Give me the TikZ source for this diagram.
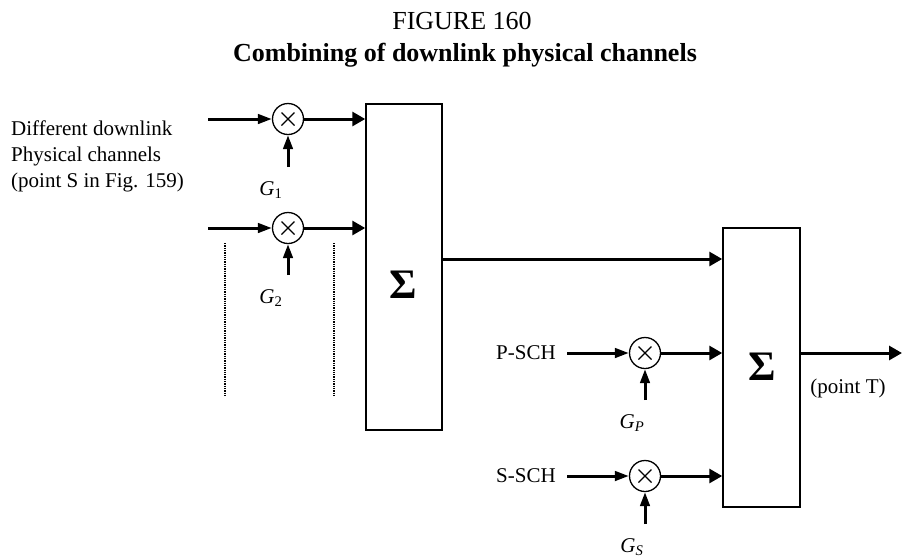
\documentclass[tikz,border=0pt]{standalone}
\usepackage{fontspec}
\setmainfont{Liberation Serif}
\usetikzlibrary{arrows.meta}
\begin{document}
\begin{tikzpicture}[x=1pt,y=-1pt,
  txt/.style={font=\fontsize{21}{26}\selectfont, inner sep=0pt},
  ttl/.style={font=\fontsize{26}{30}\selectfont, inner sep=0pt},
  mult/.style={circle, draw, line width=1.3pt, minimum size=31pt, inner sep=0pt,
    path picture={\draw[line width=1.2pt]
      ([shift={(-6.5pt,-6.5pt)}]path picture bounding box.center) -- ([shift={(6.5pt,6.5pt)}]path picture bounding box.center)
      ([shift={(-6.5pt,6.5pt)}]path picture bounding box.center) -- ([shift={(6.5pt,-6.5pt)}]path picture bounding box.center);}},
  sumbox/.style={draw, line width=1.5pt, rectangle, inner sep=0pt},
  sig/.style={font=\fontsize{42}{42}\selectfont\bfseries, inner sep=0pt},
  arr/.style={line width=3pt, -{Triangle[length=13pt,width=14pt]}},
  arrs/.style={line width=3pt, -{Triangle[length=14pt,width=9.5pt]}},
  dots/.style={line width=2.4pt, dash pattern=on 1.3pt off 1pt}
]
\useasboundingbox (0,0) rectangle (903,558);

% titles
\node[ttl] (t1) at (462,21) {FIGURE 160};
\node[ttl, font=\fontsize{26}{30}\selectfont\bfseries] (t2) at (465,55) {Combining of downlink physical channels};

% left text
\node[txt, anchor=west, align=left] (lt) at (11,156) {Different downlink\\Physical channels\\(point S in Fig. 159)};

% boxes
\node[sumbox, minimum width=76pt, minimum height=326pt] (b1) at (404,267) {};
\node[sumbox, minimum width=77pt, minimum height=279pt] (b2) at (761.5,367.5) {};
\node[sig] (s1) at (403,285) {Σ};
\node[sig] (s2) at (762,367) {Σ};

% multipliers
\node[mult] (m1) at (288,119) {};
\node[mult] (m2) at (288,228) {};
\node[mult] (m3) at (645,353) {};
\node[mult] (m4) at (645,476) {};

% input starts
\coordinate (i1) at (208,119);
\coordinate (i2) at (208,228);
\node[txt] (psch) at (526,353) {P-SCH};
\node[txt] (ssch) at (526,476) {S-SCH};
\coordinate (i3) at (567,353);
\coordinate (i4) at (567,476);

% gain starts
\coordinate (g1) at (288,167);
\coordinate (g2) at (288,275);
\coordinate (g3) at (645,400);
\coordinate (g4) at (645,524);

% gain labels
\node[txt] (G1) at (271,190) {\textit{G}\textsubscript{1}};
\node[txt] (G2) at (271,298) {\textit{G}\textsubscript{2}};
\node[txt] (GP) at (632,423) {\textit{G}\textsubscript{\textit{P}}};
\node[txt] (GS) at (632,547) {\textit{G}\textsubscript{\textit{S}}};

% connectors
\draw[arrs] (i1) -- (m1);
\draw[arr] (m1) -- (m1 -| b1.west);
\draw[arrs] (i2) -- (m2);
\draw[arr] (m2) -- (m2 -| b1.west);
\draw[arrs] (g1) -- (m1);
\draw[arrs] (g2) -- (m2);

\draw[arrs] (i3) -- (m3);
\draw[arr] (m3) -- (m3 -| b2.west);
\draw[arrs] (i4) -- (m4);
\draw[arr] (m4) -- (m4 -| b2.west);
\draw[arrs] (g3) -- (m3);
\draw[arrs] (g4) -- (m4);

\coordinate (j) at (0,259);
\draw[arr] (j -| b1.east) -- (j -| b2.west);

\coordinate (o) at (902,353);
\draw[arr] (o -| b2.east) -- (o);
\node[txt] (pt) at (848,388) {(point T)};

% dotted lines
\coordinate (d1a) at (225,243);
\coordinate (d1b) at (225,397);
\coordinate (d2a) at (334,243);
\coordinate (d2b) at (334,397);
\draw[dots] (d1a) -- (d1b);
\draw[dots] (d2a) -- (d2b);
\end{tikzpicture}
\end{document}
